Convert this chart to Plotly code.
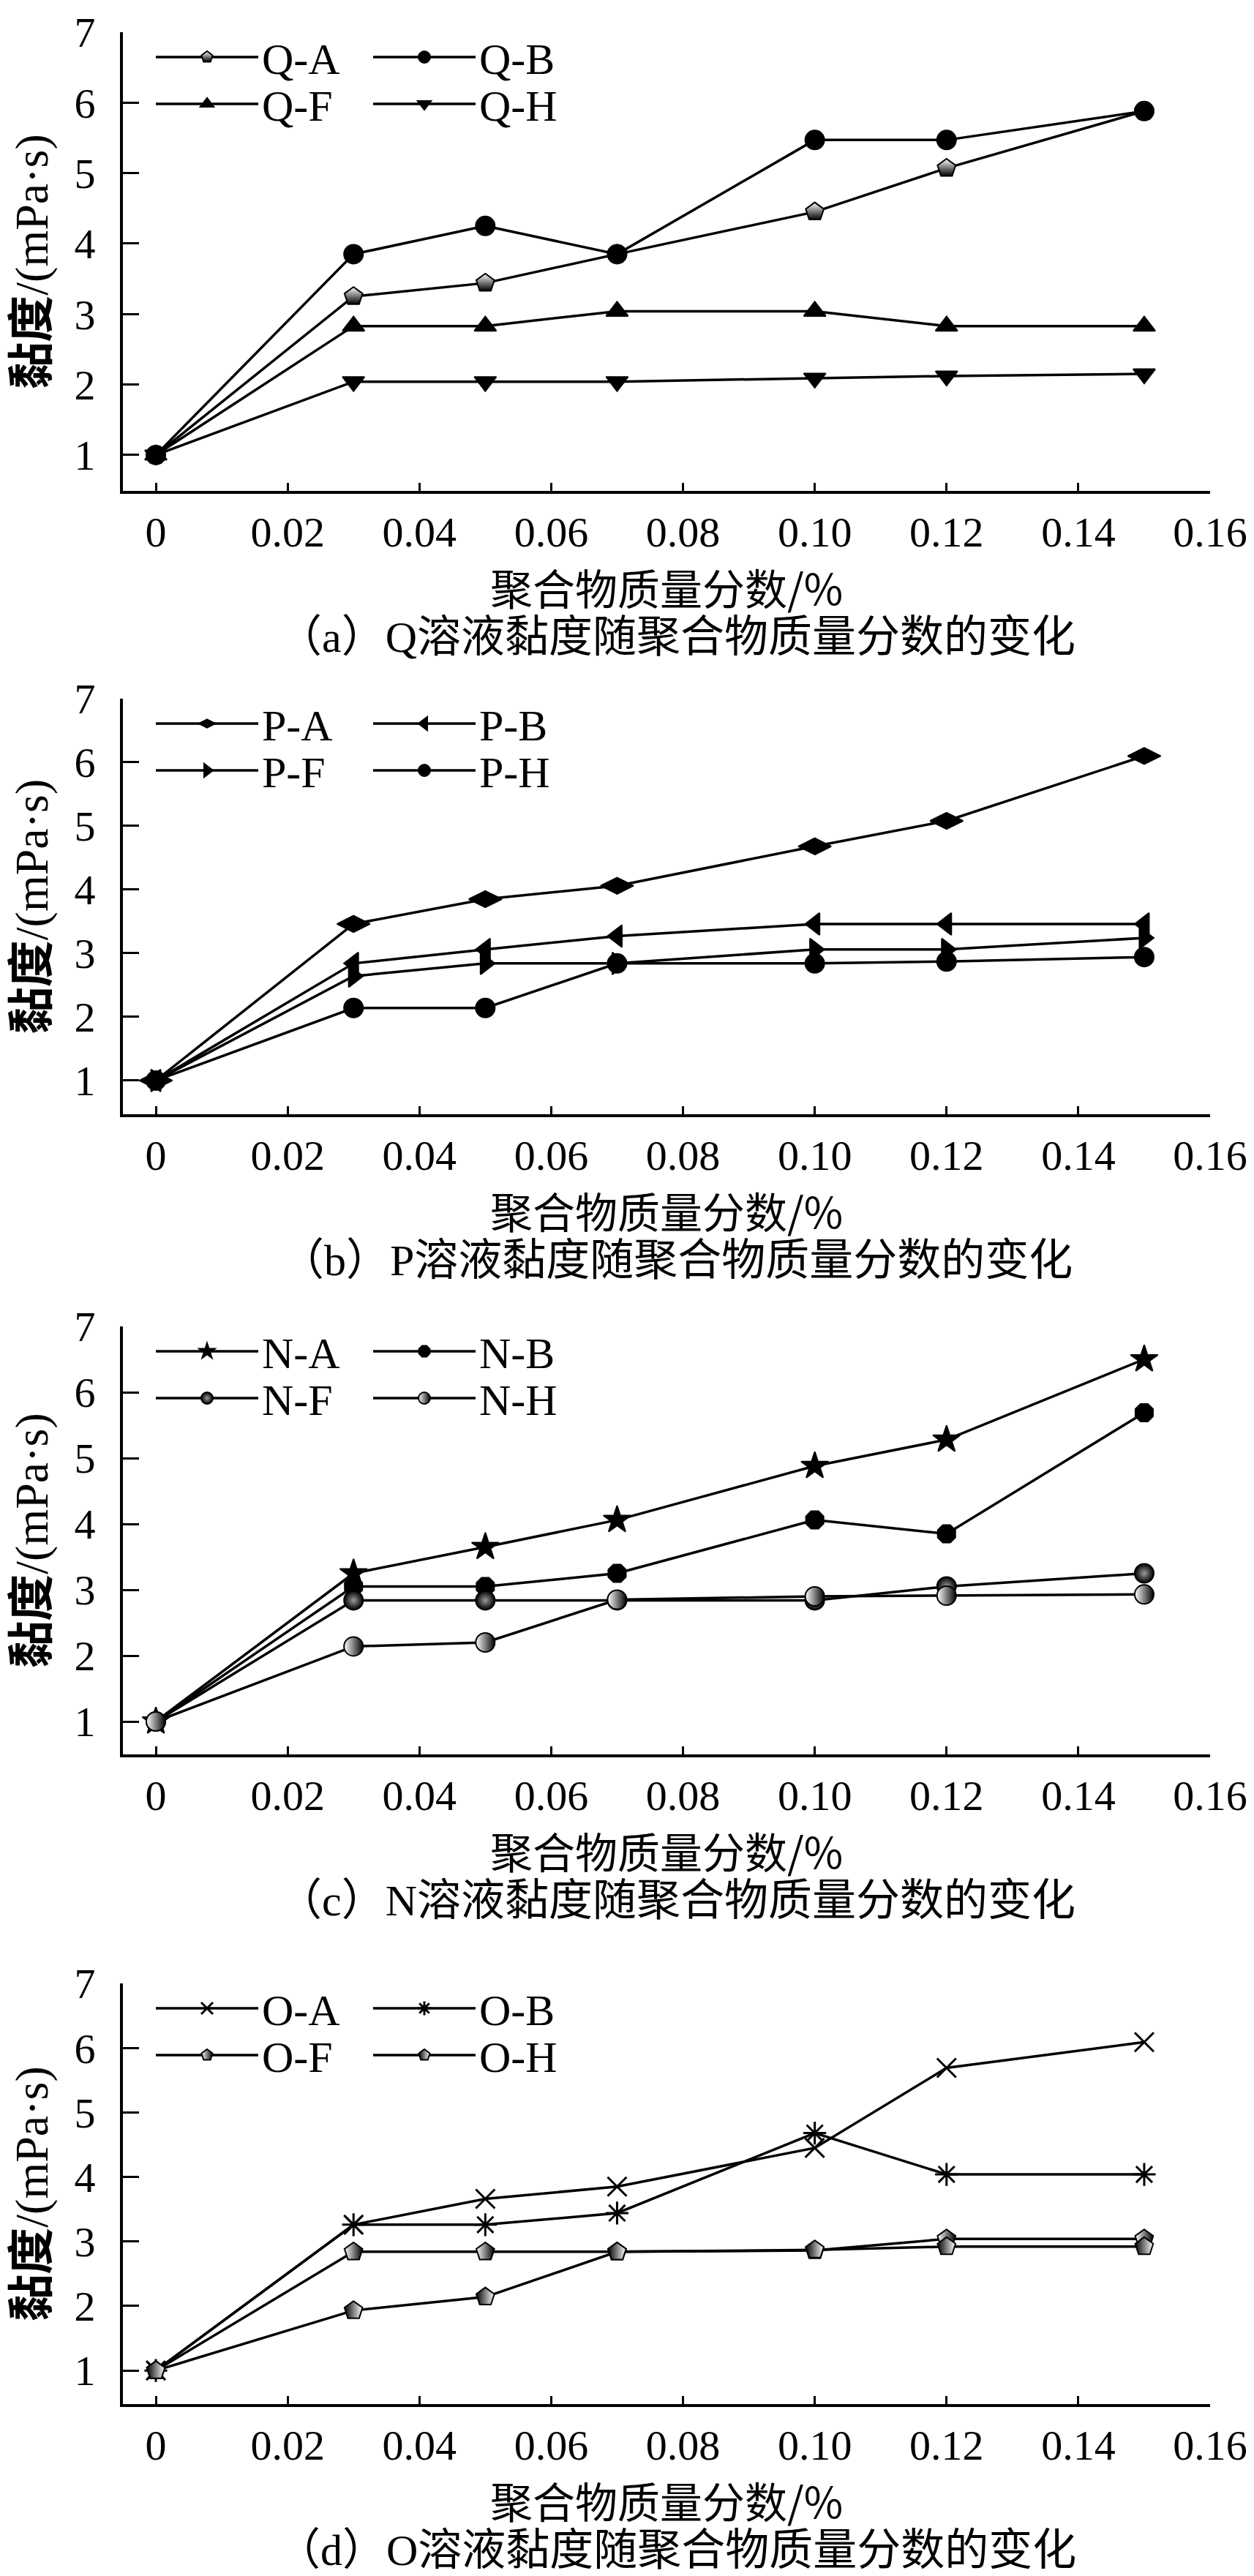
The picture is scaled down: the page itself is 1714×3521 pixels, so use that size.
import plotly.graph_objects as go

# ========== 数据 ==========
X = [0, 0.03, 0.05, 0.07, 0.10, 0.12, 0.15]

Q_A = [1.0, 3.25, 3.44, 3.85, 4.45, 5.07, 5.88]
Q_B = [1.0, 3.85, 4.25, 3.85, 5.47, 5.47, 5.88]
Q_F = [1.0, 2.83, 2.83, 3.04, 3.04, 2.83, 2.83]
Q_H = [1.0, 2.04, 2.04, 2.04, 2.09, 2.12, 2.15]

P_A = [1.0, 3.46, 3.85, 4.06, 4.68, 5.08, 6.10]
P_B = [1.0, 2.84, 3.06, 3.27, 3.46, 3.46, 3.46]
P_F = [1.0, 2.64, 2.84, 2.84, 3.06, 3.06, 3.24]
P_H = [1.0, 2.14, 2.14, 2.84, 2.84, 2.87, 2.94]

N_A = [1.0, 3.25, 3.65, 4.06, 4.88, 5.28, 6.50]
N_B = [1.0, 3.05, 3.05, 3.25, 4.06, 3.85, 5.69]
N_F = [1.0, 2.84, 2.84, 2.84, 2.84, 3.05, 3.25]
N_H = [1.0, 2.14, 2.20, 2.85, 2.90, 2.91, 2.93]

O_A = [1.0, 3.26, 3.66, 3.85, 4.45, 5.69, 6.09]
O_B = [1.0, 3.26, 3.26, 3.44, 4.68, 4.04, 4.04]
O_F = [1.0, 2.84, 2.84, 2.84, 2.86, 3.04, 3.04]
O_H = [1.0, 1.93, 2.14, 2.84, 2.87, 2.92, 2.92]

X_TICKS = [0, 0.02, 0.04, 0.06, 0.08, 0.10, 0.12, 0.14, 0.16]
X_TICKTEXT = ['0', '0.02', '0.04', '0.06', '0.08', '0.10', '0.12', '0.14', '0.16']
Y_TICKS = [1, 2, 3, 4, 5, 6, 7]

PANELS = [
    ('（a）Q溶液黏度随聚合物质量分数的变化', [('Q-A', Q_A), ('Q-B', Q_B), ('Q-F', Q_F), ('Q-H', Q_H)]),
    ('（b）P溶液黏度随聚合物质量分数的变化', [('P-A', P_A), ('P-B', P_B), ('P-F', P_F), ('P-H', P_H)]),
    ('（c）N溶液黏度随聚合物质量分数的变化', [('N-A', N_A), ('N-B', N_B), ('N-F', N_F), ('N-H', N_H)]),
    ('（d）O溶液黏度随聚合物质量分数的变化', [('O-A', O_A), ('O-B', O_B), ('O-F', O_F), ('O-H', O_H)]),
]

# ========== 样式 ==========
W, H = 1714, 3521
SERIF = 'Liberation Serif, Times New Roman, Noto Sans CJK SC, serif'
CJK = 'Noto Sans CJK SC'

BLK = dict(color='black', width=2)
MARKERS = {
    'Q-A': dict(symbol='pentagon', color='white', gradient=dict(type='vertical', color='black'), line=BLK),
    'Q-B': dict(symbol='circle', color='black', line=BLK),
    'Q-F': dict(symbol='triangle-up', color='black', line=BLK),
    'Q-H': dict(symbol='triangle-down', color='black', line=BLK),
    'P-A': dict(symbol='diamond-wide', color='black', line=BLK, size=32),
    'P-B': dict(symbol='triangle-left', color='black', line=BLK),
    'P-F': dict(symbol='triangle-right', color='black', line=BLK),
    'P-H': dict(symbol='circle', color='black', line=BLK),
    'N-A': dict(symbol='star', color='black', line=BLK, size=28),
    'N-B': dict(symbol='octagon', color='black', line=BLK),
    'N-F': dict(symbol='circle', color='black', gradient=dict(type='radial', color='#9a9a9a'), line=BLK),
    'N-H': dict(symbol='circle', color='white', gradient=dict(type='horizontal', color='black'), line=BLK),
    'O-A': dict(symbol='x-thin-open', color='black', line=dict(color='black', width=3)),
    'O-B': dict(symbol='asterisk-open', color='black', line=dict(color='black', width=3)),
    'O-F': dict(symbol='pentagon', color='white', gradient=dict(type='horizontal', color='black'), line=BLK),
    'O-H': dict(symbol='pentagon', color='black', gradient=dict(type='horizontal', color='white'), line=BLK),
}

# 像素布局（原图坐标）
PLOT_LEFT, PLOT_RIGHT = 160, 1646
PANEL_TOP = [36, 947, 1805, 2703]
PANEL_BOTTOM = [663, 1515, 2390, 3278]
Y_MIN = [0.49, 0.47, 0.5, 0.48]


def py(px):
    return 1 - px / H


fig = go.Figure()
layout = dict(
    template='none',
    width=W, height=H,
    margin=dict(l=0, r=0, t=0, b=0, pad=0),
    paper_bgcolor='white', plot_bgcolor='white',
    font=dict(family=SERIF, size=58, color='black'),
    annotations=[],
)

for i, (caption, series) in enumerate(PANELS):
    n = i + 1
    xk, yk = ('x', 'y') if n == 1 else (f'x{n}', f'y{n}')
    for j, (name, vals) in enumerate(series):
        leg_n = 2 * i + (j // 2) + 1
        mk = dict(MARKERS[name])
        size = mk.pop('size', 26)
        fig.add_trace(go.Scatter(
            x=X, y=vals, name=name, mode='lines+markers',
            line=dict(color='black', width=3.5),
            marker=dict(size=size, **mk),
            xaxis=xk, yaxis=yk,
            legend='legend' if leg_n == 1 else f'legend{leg_n}',
        ))

    layout['xaxis' if n == 1 else f'xaxis{n}'] = dict(
        domain=[PLOT_LEFT / W, PLOT_RIGHT / W], anchor=yk, automargin=False,
        range=[-0.005, 0.16], tickvals=X_TICKS, ticktext=X_TICKTEXT,
        ticks='inside', ticklen=11, tickwidth=3, tickcolor='black',
        showline=True, linewidth=4, linecolor='black',
        showgrid=False, zeroline=False, ticklabelstandoff=2,
        tickfont=dict(family=SERIF, size=58),
        title=dict(text='聚合物质量分数/%', font=dict(family=CJK, size=58), standoff=2),
    )
    layout['yaxis' if n == 1 else f'yaxis{n}'] = dict(
        domain=[py(PANEL_BOTTOM[i]), py(PANEL_TOP[i])], anchor=xk, automargin=False,
        range=[Y_MIN[i], 7], tickvals=Y_TICKS,
        ticks='inside', ticklen=22, tickwidth=3, tickcolor='black',
        showline=True, linewidth=4, linecolor='black',
        showgrid=False, zeroline=False, ticklabelstandoff=22,
        tickfont=dict(family=SERIF, size=58),
        title=dict(text='<b>黏度</b>/(mPa·s)', font=dict(family=SERIF, size=64), standoff=20),
    )

    for r, row_px in enumerate([PANEL_TOP[i] + 34, PANEL_TOP[i] + 98]):
        leg_n = 2 * i + r + 1
        layout['legend' if leg_n == 1 else f'legend{leg_n}'] = dict(
            x=200 / W, y=py(row_px), xanchor='left', yanchor='middle',
            orientation='h', bgcolor='rgba(0,0,0,0)', borderwidth=0,
            font=dict(family=SERIF, size=60, color='black'),
            itemwidth=140, entrywidth=142, entrywidthmode='pixels',
            tracegroupgap=0,
        )

    layout['annotations'].append(dict(
        text=caption, xref='paper', yref='paper',
        x=917 / W, y=py(PANEL_BOTTOM[i] + 200), xanchor='center', yanchor='middle',
        showarrow=False, font=dict(family=SERIF, size=60, color='black'),
    ))

fig.update_layout(**layout)
fig.write_html('out.html')
